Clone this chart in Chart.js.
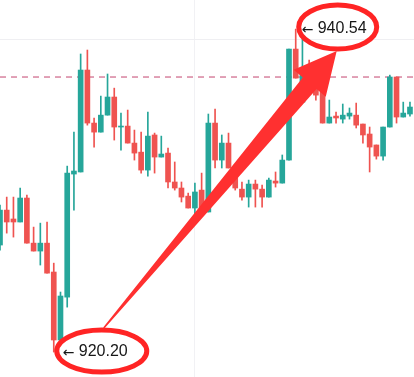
<!DOCTYPE html>
<html>
<head>
<meta charset="utf-8">
<script src="https://cdn.jsdelivr.net/npm/chart.js@4.4.1/dist/chart.umd.min.js"></script>
<style>
  html, body { margin: 0; padding: 0; background: #fff; }
  #chart { display: block; }
</style>
</head>
<body>
<canvas id="chart" width="414" height="377"></canvas>
<script>
// candle prices (left to right)
var open  = [926.94, 929.14, 928.58, 928.39, 929.90, 927.06, 926.56, 927.06, 925.24, 920.96,
             923.66, 931.41, 931.54, 937.96, 934.62, 934.05, 935.12, 936.26, 934.37, 934.43,
             933.36, 932.79, 931.66, 933.87, 932.48, 932.73, 930.91, 930.53, 930.02, 929.27,
             930.40, 929.02, 934.62, 932.29, 933.36, 931.79, 930.46, 929.96, 930.78, 930.46,
             929.96, 930.97, 930.84, 932.29, 939.28, 935.94, 937.83, 937.01, 937.01, 934.62,
             935.06, 934.87, 935.06, 935.12, 934.56, 933.93, 933.24, 932.54, 934.37, 937.52,
             935.00, 935.19];
var high  = [929.46, 929.96, 929.96, 930.53, 930.09, 928.07, 928.32, 928.39, 925.80, 923.98,
             931.91, 934.05, 938.97, 939.22, 934.94, 936.32, 937.71, 936.82, 935.25, 935.44,
             934.18, 934.05, 935.31, 933.99, 933.80, 933.05, 932.17, 930.91, 930.21, 930.84,
             931.47, 935.19, 935.50, 933.87, 933.99, 931.98, 930.91, 931.03, 931.03, 930.72,
             931.16, 931.54, 932.61, 939.28, 940.54, 940.04, 938.59, 937.33, 937.33, 936.07,
             935.31, 935.82, 935.57, 935.88, 934.56, 934.37, 933.24, 934.37, 937.64, 937.52,
             935.94, 935.94];
var low   = [926.62, 927.69, 927.44, 928.39, 927.06, 926.56, 925.68, 925.17, 920.20, 920.96,
             923.03, 929.14, 931.54, 934.49, 933.11, 934.05, 935.12, 933.55, 932.92, 933.36,
             932.29, 931.47, 931.28, 931.47, 932.48, 930.53, 930.40, 929.65, 929.27, 928.51,
             928.95, 929.02, 931.79, 931.79, 931.79, 930.40, 929.77, 929.33, 929.33, 929.33,
             929.96, 930.59, 930.84, 932.29, 937.45, 935.94, 936.38, 936.07, 934.62, 934.62,
             934.62, 934.62, 934.87, 934.31, 933.36, 931.54, 932.35, 932.29, 934.37, 934.62,
             935.00, 935.06];
var close = [929.14, 928.39, 928.39, 929.90, 927.06, 926.56, 927.06, 925.17, 920.96, 923.73,
             931.47, 931.60, 937.96, 934.62, 934.05, 935.12, 936.26, 934.37, 934.43, 933.36,
             932.73, 931.66, 933.80, 932.48, 932.67, 930.91, 930.53, 929.96, 929.27, 930.28,
             928.95, 934.62, 932.29, 933.36, 931.79, 930.53, 929.96, 930.78, 930.46, 929.96,
             931.03, 930.84, 932.29, 939.28, 937.45, 937.83, 936.70, 936.38, 934.62, 935.00,
             934.94, 935.12, 935.25, 934.49, 933.87, 933.11, 932.54, 934.37, 937.52, 935.00,
             935.25, 935.63];

var refLevel = 937.52;      // dashed price line
var lowMark = { index: 8, label: '920.20' };
var highMark = { index: 44, label: '940.54' };

var upColor = '#26a69a';
var downColor = '#ef5350';

var bodies = open.map(function (o, i) { return { x: i, y: [o, close[i]] }; });
var wicks = open.map(function (o, i) { return { x: i, y: [low[i], high[i]] }; });
function candleColor(ctx) {
  var i = ctx.dataIndex;
  return close[i] >= open[i] ? upColor : downColor;
}

function ring(c, cx, cy, rx, ry) {
  c.beginPath();
  c.ellipse(cx, cy, rx, ry, 0, 0, Math.PI * 2);
  c.stroke();
}

function markLabel(c, px, py, text) {
  c.fillStyle = '#161616';
  c.textBaseline = 'middle';
  c.font = '14px "DejaVu Sans", sans-serif';
  c.fillText('\u2190', px - 1, py + 1);
  c.font = '16px "Liberation Sans", Arial, sans-serif';
  c.fillText(text, px + 15, py);
}

var annotate = {
  id: 'annotate',
  afterDraw: function (chart) {
    var c = chart.ctx, xs = chart.scales.x, ys = chart.scales.y;
    var lx = xs.getPixelForValue(lowMark.index) + 10, ly = ys.getPixelForValue(low[lowMark.index]);
    var hx = xs.getPixelForValue(highMark.index) + 7, hy = ys.getPixelForValue(high[highMark.index]);
    c.save();
    markLabel(c, lx, ly, lowMark.label);
    markLabel(c, hx, hy, highMark.label);

    c.strokeStyle = '#ff2424';
    c.lineWidth = 5;
    ring(c, lx + 38, ly - 1, 45, 21);
    ring(c, hx + 35, hy - 2, 39, 22);

    // big tapering arrow from the low ring to the high ring
    var tx = lx + 40, ty = ly - 24;
    var hdx = hx + 34, hdy = hy + 22;
    var dx = hdx - tx, dy = hdy - ty, len = Math.sqrt(dx * dx + dy * dy);
    var ux = dx / len, uy = dy / len, nx = -uy, ny = ux;
    var bx = hdx - ux * 42, by = hdy - uy * 42;
    c.fillStyle = '#ff3030';
    c.beginPath();
    c.moveTo(tx + nx * 0.8, ty + ny * 0.8);
    c.lineTo(bx + nx * 9, by + ny * 9);
    c.lineTo(bx + nx * 21, by + ny * 21);
    c.lineTo(hdx, hdy);
    c.lineTo(bx - nx * 21, by - ny * 21);
    c.lineTo(bx - nx * 9, by - ny * 9);
    c.lineTo(tx - nx * 0.8, ty - ny * 0.8);
    c.closePath();
    c.fill();
    c.restore();
  }
};

new Chart(document.getElementById('chart'), {
  data: {
    datasets: [
      {
        type: 'bar',
        data: bodies,
        backgroundColor: candleColor,
        barThickness: 5,
        minBarLength: 1,
        grouped: false,
        order: 0
      },
      {
        type: 'bar',
        data: wicks,
        backgroundColor: candleColor,
        barThickness: 1,
        grouped: false,
        order: 1
      },
      {
        type: 'line',
        data: [{ x: 0, y: refLevel }, { x: 61.6, y: refLevel }],
        borderColor: '#c4456f',
        borderWidth: 1,
        borderDash: [6, 5],
        pointRadius: 0,
        order: 2
      }
    ]
  },
  options: {
    responsive: false,
    animation: false,
    devicePixelRatio: 1,
    layout: { padding: 0 },
    plugins: { legend: { display: false }, tooltip: { enabled: false } },
    scales: {
      x: {
        type: 'linear',
        min: 0,
        max: 61.6,
        offset: false,
        ticks: { display: false },
        border: { display: false },
        grid: { color: '#f1f1f4', drawTicks: false, offset: false },
        afterBuildTicks: function (axis) { axis.ticks = [{ value: 29 }]; }
      },
      y: {
        min: 918.63,
        max: 942.37,
        ticks: { display: false },
        border: { display: false },
        grid: { color: '#efeff2', drawTicks: false },
        afterBuildTicks: function (axis) { axis.ticks = [{ value: 939.91 }]; }
      }
    }
  },
  plugins: [annotate]
});
</script>
</body>
</html>
